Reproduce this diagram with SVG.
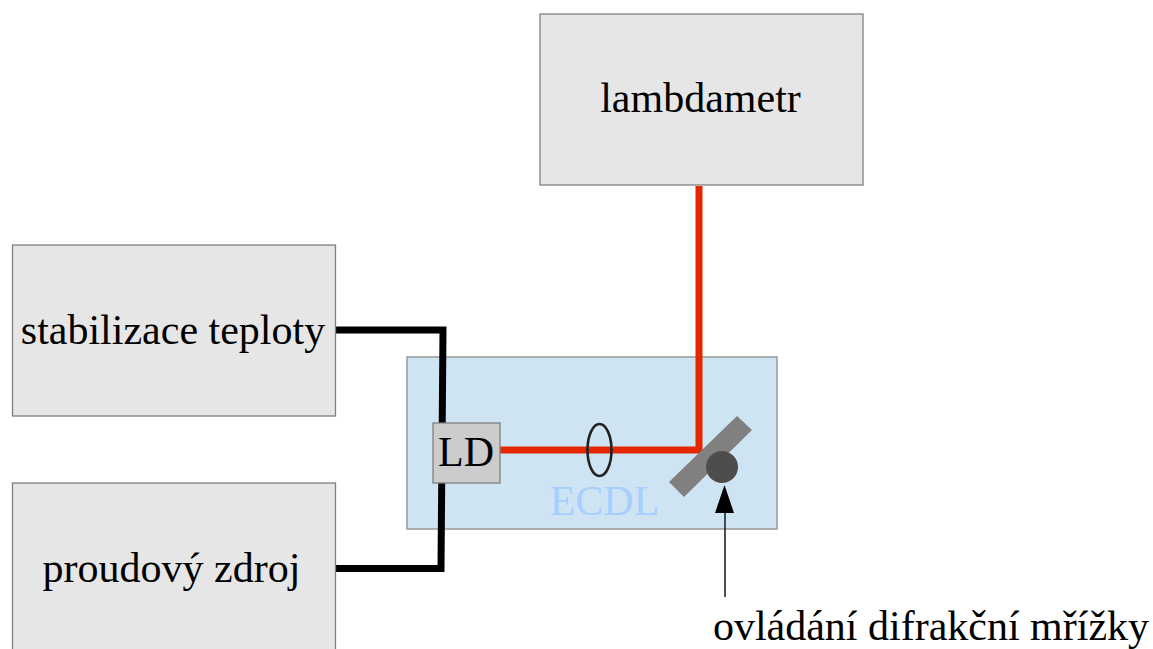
<svg xmlns="http://www.w3.org/2000/svg" width="1153" height="649" viewBox="0 0 1153 649">
<style>
text{font-family:"Liberation Serif",serif;font-size:42px;fill:#000;text-anchor:middle}
.b{fill:#e6e6e6;stroke:#808080;stroke-width:1.3}
.k{fill:none;stroke:#000;stroke-width:7}
.r{fill:none;stroke:#e32800;stroke-width:7}
</style>
<rect width="1153" height="649" fill="#fff"/>
<g id="ecdl"><rect x="407" y="357" width="370" height="172" fill="#cfe4f3" stroke="#999" stroke-width="1.5"/>
<text x="604.500" y="515" style="fill:#a6cfff">ECDL</text></g>
<g id="connectors">
<path class="k" d="M336 330H443L441 568.500H336"/>
<path class="r" d="M699 186V450H500"/>
<path d="M725 597V510" stroke="#222" stroke-width="1.6" fill="none"/>
<path d="M724.500 485L734 513H715Z" fill="#000"/>
</g>
<g id="lambdametr"><rect class="b" x="540" y="14" width="323" height="171"/><text x="700.500" y="112">lambdametr</text></g>
<g id="stabilizace"><rect class="b" x="12.500" y="245" width="323" height="171"/><text x="173" y="344">stabilizace teploty</text></g>
<g id="zdroj"><rect class="b" x="12.500" y="483" width="323" height="180"/><text x="171.500" y="582">proudový zdroj</text></g>
<g id="ld"><rect x="433" y="423" width="67" height="60" fill="#cccccc" stroke="#808080" stroke-width="1.3"/><text x="466" y="466">LD</text></g>
<g id="lens"><ellipse cx="599.500" cy="450" rx="12" ry="26" fill="none" stroke="#222" stroke-width="2.600"/></g>
<g id="grating"><path d="M669 482L737 416L752 430L684 497Z" fill="#808080"/><circle cx="722" cy="467" r="16" fill="#4d4d4d"/></g>
<g id="label"><text x="931" y="640">ovládání difrakční mřížky</text></g>
</svg>
